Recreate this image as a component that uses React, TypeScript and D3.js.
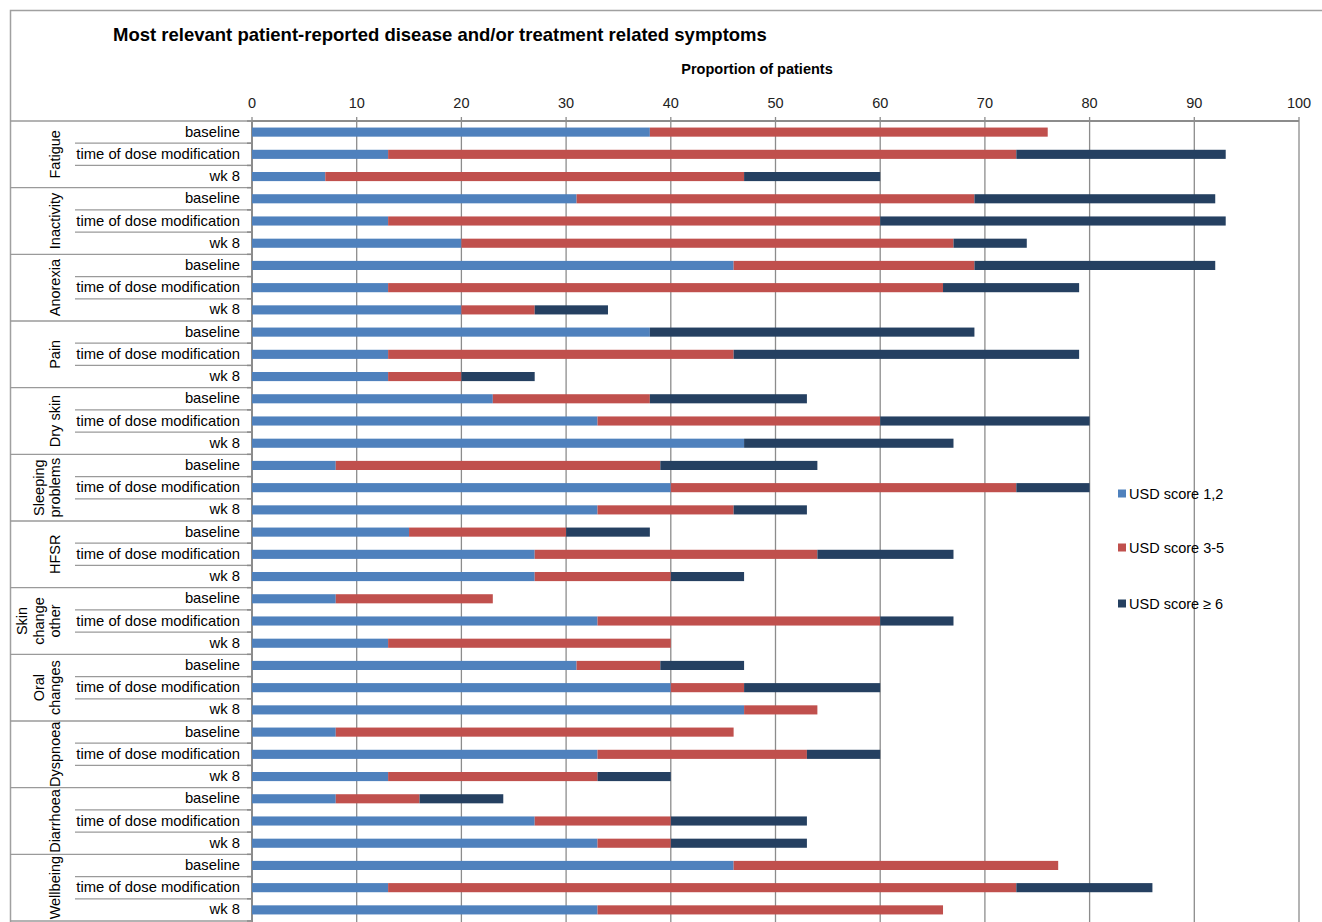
import React from "react";
import * as d3 from "d3";

const groups = [
  ["Fatigue"],
  ["Inactivity"],
  ["Anorexia"],
  ["Pain"],
  ["Dry skin"],
  ["Sleeping", "problems"],
  ["HFSR"],
  ["Skin", "change", "other"],
  ["Oral", "changes"],
  ["Dyspnoea"],
  ["Diarrhoea"],
  ["Wellbeing"],
];
const timepoints = ["baseline", "time of dose modification", "wk 8"];

// segment lengths per row (group x timepoint), in % of patients
const score12 = [38, 13, 7, 31, 13, 20, 46, 13, 20, 38, 13, 13, 23, 33, 47, 8, 40, 33, 15, 27, 27, 8, 33, 13, 31, 40, 47, 8, 33, 13, 8, 27, 33, 46, 13, 33];
const score35 = [38, 60, 40, 38, 47, 47, 23, 53, 7, 0, 33, 7, 15, 27, 0, 31, 33, 13, 15, 27, 13, 15, 27, 27, 8, 7, 7, 38, 20, 20, 8, 13, 7, 31, 60, 33];
const score6 = [0, 20, 13, 23, 33, 7, 23, 13, 7, 31, 33, 7, 15, 20, 20, 15, 7, 7, 8, 13, 7, 0, 7, 0, 8, 13, 0, 0, 7, 7, 8, 13, 13, 0, 13, 0];

const seriesNames = ["USD score 1,2", "USD score 3-5", "USD score \u2265 6"];
const seriesColors = ["#4F81BD", "#C0504D", "#254061"];
const xTicks = [0, 10, 20, 30, 40, 50, 60, 70, 80, 90, 100];

const FONT = "'Liberation Sans', Arial, sans-serif";

export default function App() {
  const x = d3.scaleLinear().domain([0, 100]).range([252, 1299]);
  const nRows = groups.length * timepoints.length;
  const rows = d3.range(nRows);
  const y = d3.scaleBand<number>().domain(rows).range([121, 921]).paddingInner(0.59).paddingOuter(0.295);
  const step = y.step();
  const top = 121;

  const stackData = rows.map((i) => ({ i, s0: score12[i], s1: score35[i], s2: score6[i] }));
  const stack = d3.stack<any>().keys(["s0", "s1", "s2"])(stackData);

  const gridColor = "#8c8c8c";

  return (
    <div style={{ position: "absolute", left: 0, top: 0 }}>
      <svg width={1322} height={922} style={{ display: "block", fontFamily: FONT }}>
        <rect x={0} y={0} width={1322} height={922} fill="#fff" />
        {/* outer frame */}
        <path d={`M10.5,930 V10.5 H1340`} fill="none" stroke="#a0a0a0" strokeWidth={1.5} />
        <text x={113} y={41} fontSize={18.5} fontWeight="bold" fill="#000">
          Most relevant patient-reported disease and/or treatment related symptoms
        </text>
        <text x={757} y={74} fontSize={14.5} fontWeight="bold" textAnchor="middle" fill="#000">
          Proportion of patients
        </text>
        {/* gridlines */}
        {xTicks.map((t) => (
          <line key={"g" + t} x1={x(t)} x2={x(t)} y1={top - 4} y2={922} stroke={gridColor} strokeWidth={1.3} />
        ))}
        {xTicks.map((t) => (
          <text key={"t" + t} x={x(t)} y={108} fontSize={14.5} textAnchor="middle" fill="#222">
            {t}
          </text>
        ))}
        <line x1={x(0)} x2={x(100)} y1={top} y2={top} stroke={gridColor} strokeWidth={2} />
        <line x1={x(0)} x2={x(0)} y1={top} y2={922} stroke={gridColor} strokeWidth={2} />
        {/* row separators and ticks */}
        {d3.range(nRows + 1).map((k) => {
          const yy = top + k * step;
          const isGroup = k % 3 === 0;
          return (
            <g key={"sep" + k}>
              <line x1={isGroup ? 10 : 75} x2={252} y1={yy} y2={yy} stroke="#9a9a9a" strokeWidth={1.3} />
              <line x1={247} x2={252} y1={yy} y2={yy} stroke={gridColor} strokeWidth={1.5} />
            </g>
          );
        })}
        {/* row labels */}
        {rows.map((i) => (
          <text key={"rl" + i} x={240} y={y(i)! + y.bandwidth() / 2 + 4.5} fontSize={14.8} textAnchor="end" fill="#000">
            {timepoints[i % 3]}
          </text>
        ))}
        {/* group labels */}
        {groups.map((lines, gi) => {
          const cy = top + (gi * 3 + 1.5) * step;
          const lh = 16.5;
          const n = lines.length;
          return (
            <text key={"gl" + gi} transform={`translate(55,${cy}) rotate(-90)`} fontSize={14.5} textAnchor="middle" fill="#000">
              {lines.map((ln, li) => (
                <tspan key={li} x={0} y={-(n - 1 - li) * lh + 5}>
                  {ln}
                </tspan>
              ))}
            </text>
          );
        })}
        {/* bars */}
        {stack.map((layer, si) => (
          <g key={"s" + si} fill={seriesColors[si]}>
            {layer.map((d: any) =>
              d[1] - d[0] > 0 ? (
                <rect key={d.data.i} x={x(d[0])} y={y(d.data.i)!} width={x(d[1]) - x(d[0])} height={y.bandwidth()} />
              ) : null
            )}
          </g>
        ))}
        {/* legend */}
        {seriesNames.map((n, si) => {
          const ly = [494, 548, 604][si];
          return (
            <g key={"lg" + si}>
              <rect x={1118} y={ly - 4.5} width={8} height={8} fill={seriesColors[si]} />
              <text x={1129} y={ly + 5} fontSize={14.5} fill="#000">
                {n}
              </text>
            </g>
          );
        })}
      </svg>
    </div>
  );
}
